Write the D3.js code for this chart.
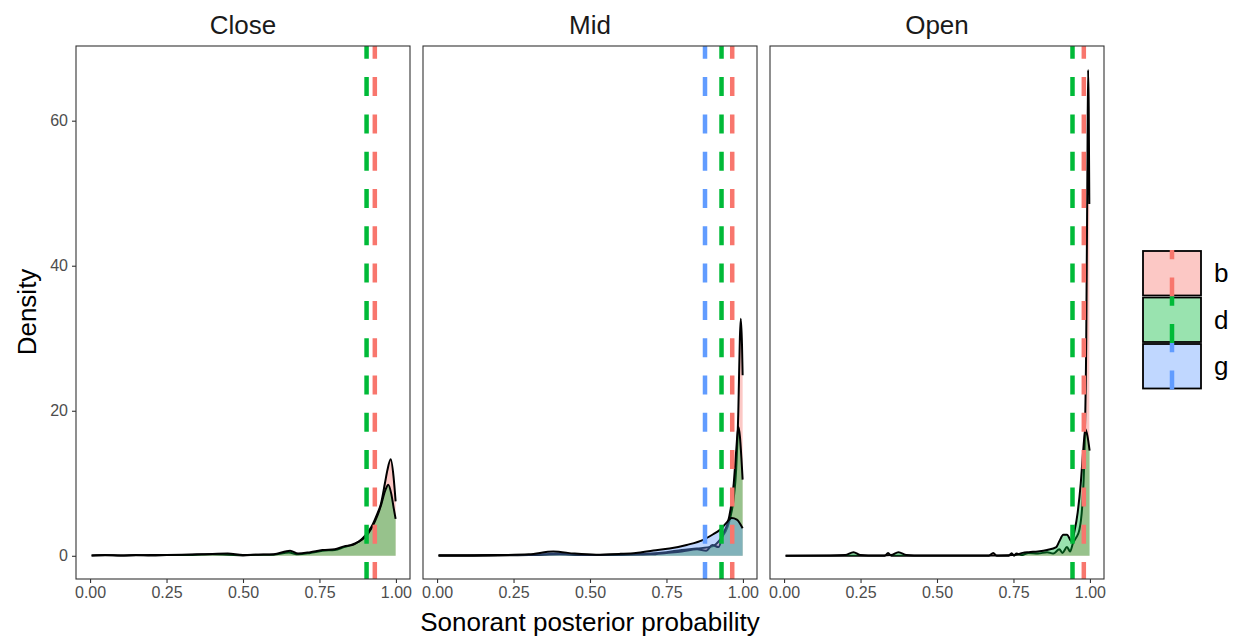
<!DOCTYPE html>
<html>
<head>
	<meta charset="utf-8"/>
	<style type="text/css">
		body { margin: 0; background: white; }
		svg text { font-family: "Liberation Sans", Arial, sans-serif; }
	</style>
</head>
<body>
	<svg id="chart" width="1234" height="638"></svg>

	<script src="https://cdn.jsdelivr.net/npm/d3@7"></script>
	<script>
		// --- data ---
		const panels = ["Close", "Mid", "Open"];
		const groups = ["b", "d", "g"];
		const groupColors = ["#F8766D", "#00BA38", "#619CFF"];
		const xTicks = [0, 0.25, 0.5, 0.75, 1];
		const yTicks = [0, 20, 40, 60];

		// density curves, [probability, density]
		const closeB = [[0.005,0.05],[0.05,0.1],[0.1,0.05],[0.2,0.1],[0.3,0.1],[0.4,0.2],[0.45,0.15],[0.5,0.05],[0.55,0.15],[0.6,0.15],[0.65,0.45],[0.68,0.2],[0.72,0.4],[0.76,0.7],[0.8,0.8],[0.83,1.2],[0.86,1.6],[0.88,2.0],[0.9,2.8],[0.92,4.0],[0.94,5.9],[0.95,7.0],[0.964,10.0],[0.972,11.8],[0.983,13.3],[0.992,11.0],[0.999,7.5]];
		const closeD = [[0.005,0.05],[0.05,0.08],[0.1,0.05],[0.15,0.1],[0.2,0.05],[0.25,0.1],[0.3,0.15],[0.35,0.2],[0.4,0.25],[0.45,0.3],[0.5,0.1],[0.55,0.15],[0.6,0.2],[0.654,0.7],[0.68,0.3],[0.72,0.5],[0.76,0.8],[0.8,0.9],[0.83,1.3],[0.86,1.5],[0.88,2.0],[0.9,2.6],[0.92,3.8],[0.94,5.6],[0.95,6.8],[0.965,9.0],[0.975,9.8],[0.985,8.5],[0.993,6.5],[0.999,5.1]];

		const midB = [[0.005,0.05],[0.1,0.05],[0.2,0.1],[0.3,0.1],[0.35,0.2],[0.4,0.3],[0.45,0.15],[0.5,0.1],[0.6,0.15],[0.7,0.3],[0.75,0.5],[0.8,0.8],[0.85,1.0],[0.9,1.3],[0.93,2.5],[0.95,4.0],[0.96,5.5],[0.97,8.0],[0.978,12.0],[0.985,20.0],[0.99,30.0],[0.993,32.7],[0.997,29.0],[0.999,24.9]];
		const midD = [[0.005,0.05],[0.1,0.05],[0.2,0.05],[0.3,0.1],[0.4,0.2],[0.5,0.1],[0.6,0.15],[0.7,0.2],[0.75,0.4],[0.8,0.6],[0.85,0.9],[0.88,0.7],[0.9,1.5],[0.92,1.2],[0.935,3.0],[0.95,4.5],[0.96,6.5],[0.97,10.0],[0.978,14.5],[0.985,17.8],[0.99,16.5],[0.995,13.5],[0.999,10.5]];
		const midG = [[0.005,0.05],[0.1,0.05],[0.2,0.1],[0.3,0.2],[0.38,0.6],[0.45,0.3],[0.52,0.15],[0.6,0.27],[0.65,0.4],[0.707,0.73],[0.76,1.0],[0.816,1.5],[0.87,2.2],[0.9,2.9],[0.925,3.6],[0.945,4.5],[0.963,5.2],[0.98,5.0],[0.999,3.8]];

		const openB = [[0.005,0.02],[0.2,0.02],[0.33,0.02],[0.34,0.4],[0.35,0.02],[0.67,0.02],[0.684,0.4],[0.695,0.02],[0.735,0.02],[0.744,0.35],[0.752,0.02],[0.76,0.3],[0.775,0.1],[0.8,0.4],[0.83,0.3],[0.86,0.5],[0.88,0.3],[0.9,0.9],[0.91,0.4],[0.925,1.2],[0.935,0.6],[0.945,1.8],[0.955,2.5],[0.965,3.5],[0.975,7.0],[0.982,14.0],[0.988,30.0],[0.992,55.0],[0.994,67.0],[0.996,62.0],[0.998,48.5]];
		const openD = [[0.005,0.02],[0.15,0.03],[0.2,0.1],[0.227,0.5],[0.25,0.1],[0.3,0.03],[0.35,0.1],[0.374,0.5],[0.4,0.1],[0.45,0.03],[0.6,0.03],[0.7,0.05],[0.76,0.15],[0.78,0.4],[0.8,0.5],[0.83,0.6],[0.86,0.8],[0.89,1.2],[0.9,2.0],[0.913,2.9],[0.925,2.9],[0.94,2.0],[0.95,3.5],[0.96,6.0],[0.97,10.0],[0.978,14.5],[0.985,17.5],[0.992,16.5],[0.999,14.5]];

		// mean lines per panel (value per group, null = none)
		const closeMeans = [0.931, 0.904, null];
		const midMeans = [0.965, 0.930, 0.876];
		const openMeans = [0.980, 0.943, null];

		const densities = [[closeB, closeD, null], [midB, midD, midG], [openB, openD, null]];
		const means = [closeMeans, midMeans, openMeans];

		// --- layout ---
		const svg = d3.select("#chart");
		const panelLeft = [76, 423, 770];
		const panelW = 334;
		const panelTop = 46, panelBottom = 579;

		const yScale = d3.scaleLinear().domain([-3.2, 70.3]).range([panelBottom, panelTop]);

		panels.forEach(function(name, p) {
			const x0 = panelLeft[p];
			const xScale = d3.scaleLinear().domain([-0.046, 1.046]).range([x0, x0 + panelW]);

			svg.append("clipPath").attr("id", "clip" + p)
			   .append("rect").attr("x", x0).attr("y", panelTop).attr("width", panelW).attr("height", panelBottom - panelTop);

			const g = svg.append("g").attr("clip-path", "url(#clip" + p + ")");

			const area = d3.area()
				.x(function(d) { return xScale(d[0]); })
				.y0(yScale(0))
				.y1(function(d) { return yScale(d[1]); })
				.curve(d3.curveMonotoneX);
			const line = area.lineY1();

			// each group: fill then upper outline (drawn in group order)
			densities[p].forEach(function(dd, i) {
				if (!dd) return;
				g.append("path").datum(dd).attr("d", area)
				 .attr("fill", groupColors[i]).attr("fill-opacity", 0.4);
				g.append("path").datum(dd).attr("d", line)
				 .attr("fill", "none").attr("stroke", "black").attr("stroke-width", 2);
			});

			// dashed mean lines
			means[p].forEach(function(m, i) {
				if (m === null) return;
				g.append("line")
				 .attr("x1", xScale(m)).attr("x2", xScale(m))
				 .attr("y1", panelBottom + 2).attr("y2", panelTop - 40)
				 .attr("stroke", groupColors[i]).attr("stroke-width", 4.5)
				 .attr("stroke-dasharray", "19 18.3");
			});

			// panel border
			svg.append("rect").attr("x", x0).attr("y", panelTop)
			   .attr("width", panelW).attr("height", panelBottom - panelTop)
			   .attr("fill", "none").attr("stroke", "#333333").attr("stroke-width", 1.1);

			// strip title
			svg.append("text").attr("x", x0 + panelW / 2).attr("y", 34)
			   .attr("text-anchor", "middle").attr("font-size", 26).attr("fill", "#1a1a1a")
			   .text(name);

			// x axis
			const xAxis = svg.append("g").attr("transform", "translate(0," + panelBottom + ")")
			   .call(d3.axisBottom(xScale).tickValues(xTicks).tickFormat(d3.format(".2f")).tickSize(4).tickPadding(4));
			xAxis.select(".domain").remove();
			xAxis.selectAll("line").attr("stroke", "#333333").attr("stroke-width", 1.1);
			xAxis.selectAll("text").attr("font-size", 16).attr("fill", "#4D4D4D")
			   .attr("font-family", "Liberation Sans, Arial, sans-serif");

			if (p === 0) {
				const yAxis = svg.append("g").attr("transform", "translate(" + x0 + ",0)")
				   .call(d3.axisLeft(yScale).tickValues(yTicks).tickSize(4).tickPadding(4));
				yAxis.select(".domain").remove();
				yAxis.selectAll("line").attr("stroke", "#333333").attr("stroke-width", 1.1);
				yAxis.selectAll("text").attr("font-size", 16).attr("fill", "#4D4D4D")
				   .attr("font-family", "Liberation Sans, Arial, sans-serif");
			}
		});

		// axis titles
		svg.append("text").attr("x", 590).attr("y", 631)
		   .attr("text-anchor", "middle").attr("font-size", 26).attr("fill", "black")
		   .text("Sonorant posterior probability");
		svg.append("text").attr("transform", "translate(36,312) rotate(-90)")
		   .attr("text-anchor", "middle").attr("font-size", 26).attr("fill", "black")
		   .text("Density");

		// legend
		const keyX = 1142, keyW = 60, keyH = 46.5, keyTop = 250;
		groups.forEach(function(name, i) {
			const ky = keyTop + i * keyH;
			svg.append("rect").attr("x", keyX).attr("y", ky).attr("width", keyW).attr("height", keyH)
			   .attr("fill", "white");
			svg.append("rect").attr("x", keyX + 1).attr("y", ky + 1).attr("width", keyW - 2).attr("height", keyH - 2)
			   .attr("fill", groupColors[i]).attr("fill-opacity", 0.4)
			   .attr("stroke", "black").attr("stroke-width", 1.8);
			svg.append("line").attr("x1", keyX + keyW / 2).attr("x2", keyX + keyW / 2)
			   .attr("y1", ky + keyH).attr("y2", ky)
			   .attr("stroke", groupColors[i]).attr("stroke-width", 4.5)
			   .attr("stroke-dasharray", "19 18.3");
			svg.append("text").attr("x", 1214).attr("y", ky + keyH / 2 + 9)
			   .attr("font-size", 26).attr("fill", "black").text(name);
		});
	</script>
</body>
</html>
